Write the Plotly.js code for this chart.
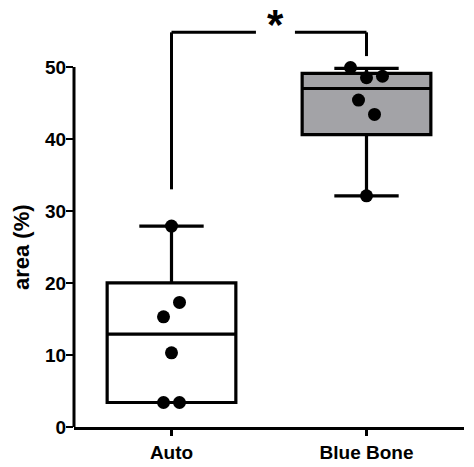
<!DOCTYPE html>
<html>
<head>
<meta charset="utf-8">
<script src="https://cdn.plot.ly/plotly-3.0.1.min.js"></script>
<style>html,body{margin:0;padding:0;background:#fff;}#chart{width:474px;height:467px;}</style>
</head>
<body>
<div id="chart"></div>
<script>
// ---- data ----
const categories = ["Auto", "Blue Bone"];
const autoValues = [3.4, 3.4, 10.3, 15.3, 17.3, 27.9];
const autoSlots  = [-1, 1, 0, -1, 1, 0];          // swarm column of each dot
const boneValues = [49.9, 48.5, 48.7, 45.4, 43.4, 32.1];
const boneSlots  = [-2, 0, 2, -1, 1, 0];
// box statistics [lowerfence, q1, median, q3, upperfence]
const autoBox = [3.4, 3.4, 12.9, 20.0, 27.9];
const boneBox = [32.1, 40.6, 47.0, 49.1, 49.8];
const yTicks = [0, 10, 20, 30, 40, 50];
const yTitle = "area (%)";
const sigLabel = "*";
const bracketTop = 54.8;     // y of bracket bar
const bracketLeftEnd = 33.0; // lower end of left leg
const bracketRightEnd = 51.5;// lower end of right leg

const slotWidth = 0.041;
const black = "#000";
const font = {family: "Liberation Sans, Arial, sans-serif", weight: "bold", color: black};

function boxTrace(i, s, fill) {
  return {
    type: "box", x: [i], lowerfence: [s[0]], q1: [s[1]], median: [s[2]], q3: [s[3]], upperfence: [s[4]],
    width: 0.66, whiskerwidth: 0.5, fillcolor: fill, boxpoints: false,
    line: {color: black, width: 3.2}, hoverinfo: "skip", showlegend: false
  };
}
function dotTrace(i, vals, slots) {
  return {
    type: "scatter", mode: "markers",
    x: slots.map(s => i + s * slotWidth), y: vals,
    marker: {color: black, size: 13}, hoverinfo: "skip", showlegend: false, cliponaxis: false
  };
}

const data = [
  boxTrace(0, autoBox, "#ffffff"),
  boxTrace(1, boneBox, "#a3a3a7"),
  dotTrace(0, autoValues, autoSlots),
  dotTrace(1, boneValues, boneSlots)
];

const ln = {color: black, width: 3};
const shapes = [
  // y axis line drawn only over the tick span
  {type: "line", xref: "paper", yref: "y", x0: 0, x1: 0, y0: 0, y1: yTicks[yTicks.length - 1], line: ln},
  // significance bracket
  {type: "line", xref: "x", yref: "y", x0: 0, x1: 0, y0: bracketLeftEnd, y1: bracketTop, line: ln},
  {type: "line", xref: "x", yref: "y", x0: 0, x1: 0.433, y0: bracketTop, y1: bracketTop, line: ln},
  {type: "line", xref: "x", yref: "y", x0: 0.633, x1: 1, y0: bracketTop, y1: bracketTop, line: ln},
  {type: "line", xref: "x", yref: "y", x0: 1, x1: 1, y0: bracketRightEnd, y1: bracketTop, line: ln}
];

const layout = {
  width: 474, height: 467,
  margin: {l: 74, r: 10, t: 10, b: 40},
  paper_bgcolor: "#fff", plot_bgcolor: "#fff",
  font: Object.assign({size: 19}, font),
  showlegend: false,
  xaxis: {
    range: [-0.5, 1.5], tickvals: [0, 1], ticktext: categories,
    ticks: "outside", ticklen: 6, tickwidth: 2.5, tickcolor: black,
    showline: true, linewidth: 3, linecolor: black,
    showgrid: false, zeroline: false, fixedrange: true,
    tickfont: Object.assign({size: 19}, font)
  },
  yaxis: {
    range: [0, 57.9], tickvals: yTicks,
    ticks: "outside", ticklen: 7, tickwidth: 2.5, tickcolor: black,
    ticklabelstandoff: -4,
    showline: false, showgrid: false, zeroline: false, fixedrange: true,
    tickfont: Object.assign({size: 19}, font)
  },
  shapes: shapes,
  annotations: [
    {text: yTitle, xref: "paper", yref: "y", x: -0.133, y: 25, textangle: -90,
     xanchor: "center", yanchor: "middle", showarrow: false, font: Object.assign({size: 22}, font)},
    {text: sigLabel, xref: "x", yref: "y", x: 0.533, y: bracketTop, xanchor: "center", yanchor: "middle",
     yshift: 8, showarrow: false, font: Object.assign({size: 42}, font)}
  ]
};

Plotly.newPlot("chart", data, layout, {displayModeBar: false, staticPlot: true});
</script>
</body>
</html>
